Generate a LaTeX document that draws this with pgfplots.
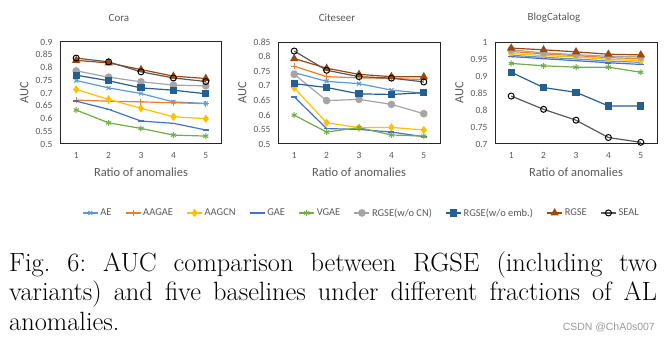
\documentclass[border=0pt]{standalone}
\usepackage{fontspec}
\usepackage{pgfplots}
\usepackage{pgfplotstable}
\pgfplotsset{compat=1.18}
\newfontfamily\calibri{Carlito}
\newfontfamily\arialf{Liberation Sans}
\definecolor{cAE}{HTML}{5B9BD5}
\definecolor{cAAGAE}{HTML}{ED7D31}
\definecolor{cAAGCN}{HTML}{FFC000}
\definecolor{cGAE}{HTML}{4472C4}
\definecolor{cVGAE}{HTML}{70AD47}
\definecolor{cWOCN}{HTML}{A5A5A5}
\definecolor{cWOEMB}{HTML}{255E91}
\definecolor{cRGSE}{HTML}{9E480E}
\definecolor{cSEAL}{HTML}{595959}
\definecolor{txtgray}{HTML}{595959}

\pgfplotstableread{
x AE AAGAE AAGCN GAE VGAE WOCN WOEMB RGSE SEAL
1 0.749 0.672 0.714 0.668 0.633 0.787 0.770 0.828 0.837
2 0.720 0.668 0.675 0.636 0.583 0.762 0.748 0.818 0.822
3 0.698 0.665 0.640 0.590 0.561 0.744 0.720 0.792 0.783
4 0.665 0.662 0.607 0.581 0.535 0.731 0.711 0.766 0.759
5 0.659 0.658 0.599 0.555 0.531 0.728 0.697 0.757 0.745
}\cora
\pgfplotstableread{
x AE AAGAE AAGCN GAE VGAE WOCN WOEMB RGSE SEAL
1 0.745 0.767 0.693 0.662 0.599 0.739 0.707 0.793 0.819
2 0.715 0.731 0.573 0.553 0.541 0.649 0.694 0.760 0.753
3 0.707 0.727 0.556 0.550 0.556 0.653 0.672 0.739 0.731
4 0.685 0.725 0.557 0.541 0.531 0.636 0.670 0.731 0.726
5 0.674 0.721 0.548 0.525 0.527 0.604 0.676 0.731 0.713
}\citeseer
\pgfplotstableread{
x AE AAGAE AAGCN GAE VGAE WOCN WOEMB RGSE SEAL
1 0.961 0.972 0.966 0.957 0.937 0.977 0.911 0.982 0.841
2 0.955 0.965 0.960 0.951 0.930 0.968 0.866 0.977 0.802
3 0.950 0.960 0.956 0.945 0.926 0.963 0.852 0.971 0.770
4 0.944 0.954 0.949 0.939 0.926 0.958 0.812 0.964 0.719
5 0.940 0.951 0.945 0.934 0.911 0.956 0.812 0.962 0.705
}\blog

\pgfplotsset{
  sAE/.style={color=cAE, mark=x, mark size=2.8bp, mark options={line width=1bp}},
  sAAGAE/.style={color=cAAGAE, mark=+, mark size=3bp, mark options={line width=1bp}},
  sAAGCN/.style={color=cAAGCN, mark=diamond*, mark size=3.2bp},
  sGAE/.style={color=cGAE, mark=-, mark size=3bp, mark options={line width=1.6bp}},
  sVGAE/.style={color=cVGAE, mark=asterisk, mark size=3bp, mark options={line width=1bp}},
  sWOCN/.style={color=cWOCN, mark=*, mark size=3.2bp},
  sWOEMB/.style={color=cWOEMB, mark=square*, mark size=3bp},
  sRGSE/.style={color=cRGSE, mark=triangle*, mark size=3.6bp},
  sSEAL/.style={color=cSEAL, mark=o, mark size=3bp, mark options={draw=black, line width=1bp, fill=white}},
  myaxis/.style={
    scale only axis, width=162bp, height=102bp,
    xmin=0.5, xmax=5.5, xtick={1,2,3,4,5},
    axis line style={black!85, line width=1bp},
    major tick length=0pt,
    tick label style={font=\calibri\fontsize{9.5}{11}\selectfont, text=txtgray},
    /pgf/number format/assume math mode=true,
    yticklabel style={/pgf/number format/.cd, fixed, precision=2, /tikz/.cd, xshift=-4bp},
    xticklabel style={yshift=-5bp},
    label style={font=\calibri\fontsize{12.5}{14}\selectfont, text=txtgray},
    xlabel={Ratio of anomalies}, ylabel={AUC},
    xlabel style={at={(axis description cs:0.5,-0.275)}, anchor=center},
    ylabel style={at={(axis description cs:-0.22,0.5)}, anchor=center},
    title style={font=\calibri\fontsize{11}{13}\selectfont, text=txtgray,
      at={(axis description cs:0.364,1.176)}, anchor=center},
    every axis plot/.append style={line width=1.2bp},
    clip=false,
  },
}

\begin{document}
\frenchspacing
\begin{tikzpicture}
\useasboundingbox (0bp,0bp) rectangle (672bp,342bp);
% Cora
\begin{axis}[myaxis, at={(60bp,198bp)}, title={Cora},
  ymin=0.5, ymax=0.9, ytick={0.5,0.55,...,0.91},
  legend columns=9,
  legend style={at={(axis description cs:1.861,-0.676)}, anchor=center, draw=none, fill=none,
    font=\calibri\fontsize{10.5}{12}\selectfont, text=txtgray,
    /tikz/every even column/.append style={column sep=11.5bp}},
  legend image code/.code={\draw[mark repeat=2,mark phase=2] plot coordinates {(0bp,0bp) (7.5bp,0bp) (15bp,0bp)};},
]
\addplot[sAE] table[x=x,y=AE]{\cora};
\addplot[sAAGAE] table[x=x,y=AAGAE]{\cora};
\addplot[sAAGCN] table[x=x,y=AAGCN]{\cora};
\addplot[sGAE] table[x=x,y=GAE]{\cora};
\addplot[sVGAE] table[x=x,y=VGAE]{\cora};
\addplot[sWOCN] table[x=x,y=WOCN]{\cora};
\addplot[sWOEMB] table[x=x,y=WOEMB]{\cora};
\addplot[sRGSE] table[x=x,y=RGSE]{\cora};
\addplot[sSEAL] table[x=x,y=SEAL]{\cora};
\legend{AE,AAGAE,AAGCN,GAE,VGAE,RGSE(w/o CN),RGSE(w/o emb.),RGSE,SEAL}
\end{axis}
% Citeseer
\begin{axis}[myaxis, at={(278bp,198bp)}, title={Citeseer},
  ymin=0.5, ymax=0.85, ytick={0.5,0.55,...,0.86}]
\addplot[sAE] table[x=x,y=AE]{\citeseer};
\addplot[sAAGAE] table[x=x,y=AAGAE]{\citeseer};
\addplot[sAAGCN] table[x=x,y=AAGCN]{\citeseer};
\addplot[sGAE] table[x=x,y=GAE]{\citeseer};
\addplot[sVGAE] table[x=x,y=VGAE]{\citeseer};
\addplot[sWOCN] table[x=x,y=WOCN]{\citeseer};
\addplot[sWOEMB] table[x=x,y=WOEMB]{\citeseer};
\addplot[sRGSE] table[x=x,y=RGSE]{\citeseer};
\addplot[sSEAL] table[x=x,y=SEAL]{\citeseer};
\end{axis}
% BlogCatalog
\begin{axis}[myaxis, at={(495bp,198bp)}, title={BlogCatalog},
  ymin=0.7, ymax=1, ytick={0.7,0.75,...,1.01}]
\addplot[sAE] table[x=x,y=AE]{\blog};
\addplot[sAAGAE] table[x=x,y=AAGAE]{\blog};
\addplot[sAAGCN] table[x=x,y=AAGCN]{\blog};
\addplot[sGAE] table[x=x,y=GAE]{\blog};
\addplot[sVGAE] table[x=x,y=VGAE]{\blog};
\addplot[sWOCN] table[x=x,y=WOCN]{\blog};
\addplot[sWOEMB] table[x=x,y=WOEMB]{\blog};
\addplot[sRGSE] table[x=x,y=RGSE]{\blog};
\addplot[sSEAL] table[x=x,y=SEAL]{\blog};
\end{axis}
% caption
\node[anchor=base west, inner sep=0] at (9bp,70bp) {\fontsize{26.5}{29}\selectfont\makebox[648bp][s]{Fig. 6: AUC comparison between RGSE (including two}};
\node[anchor=base west, inner sep=0] at (9bp,41bp) {\fontsize{26.5}{29}\selectfont\makebox[648bp][s]{variants) and five baselines under different fractions of AL}};
\node[anchor=base west, inner sep=0] at (9bp,12bp) {\fontsize{26.5}{29}\selectfont anomalies.};
\node[anchor=base east, inner sep=0, text=black!40] at (655bp,12bp) {\arialf\fontsize{10.5}{12}\selectfont CSDN @ChA0s007};
\end{tikzpicture}
\end{document}
